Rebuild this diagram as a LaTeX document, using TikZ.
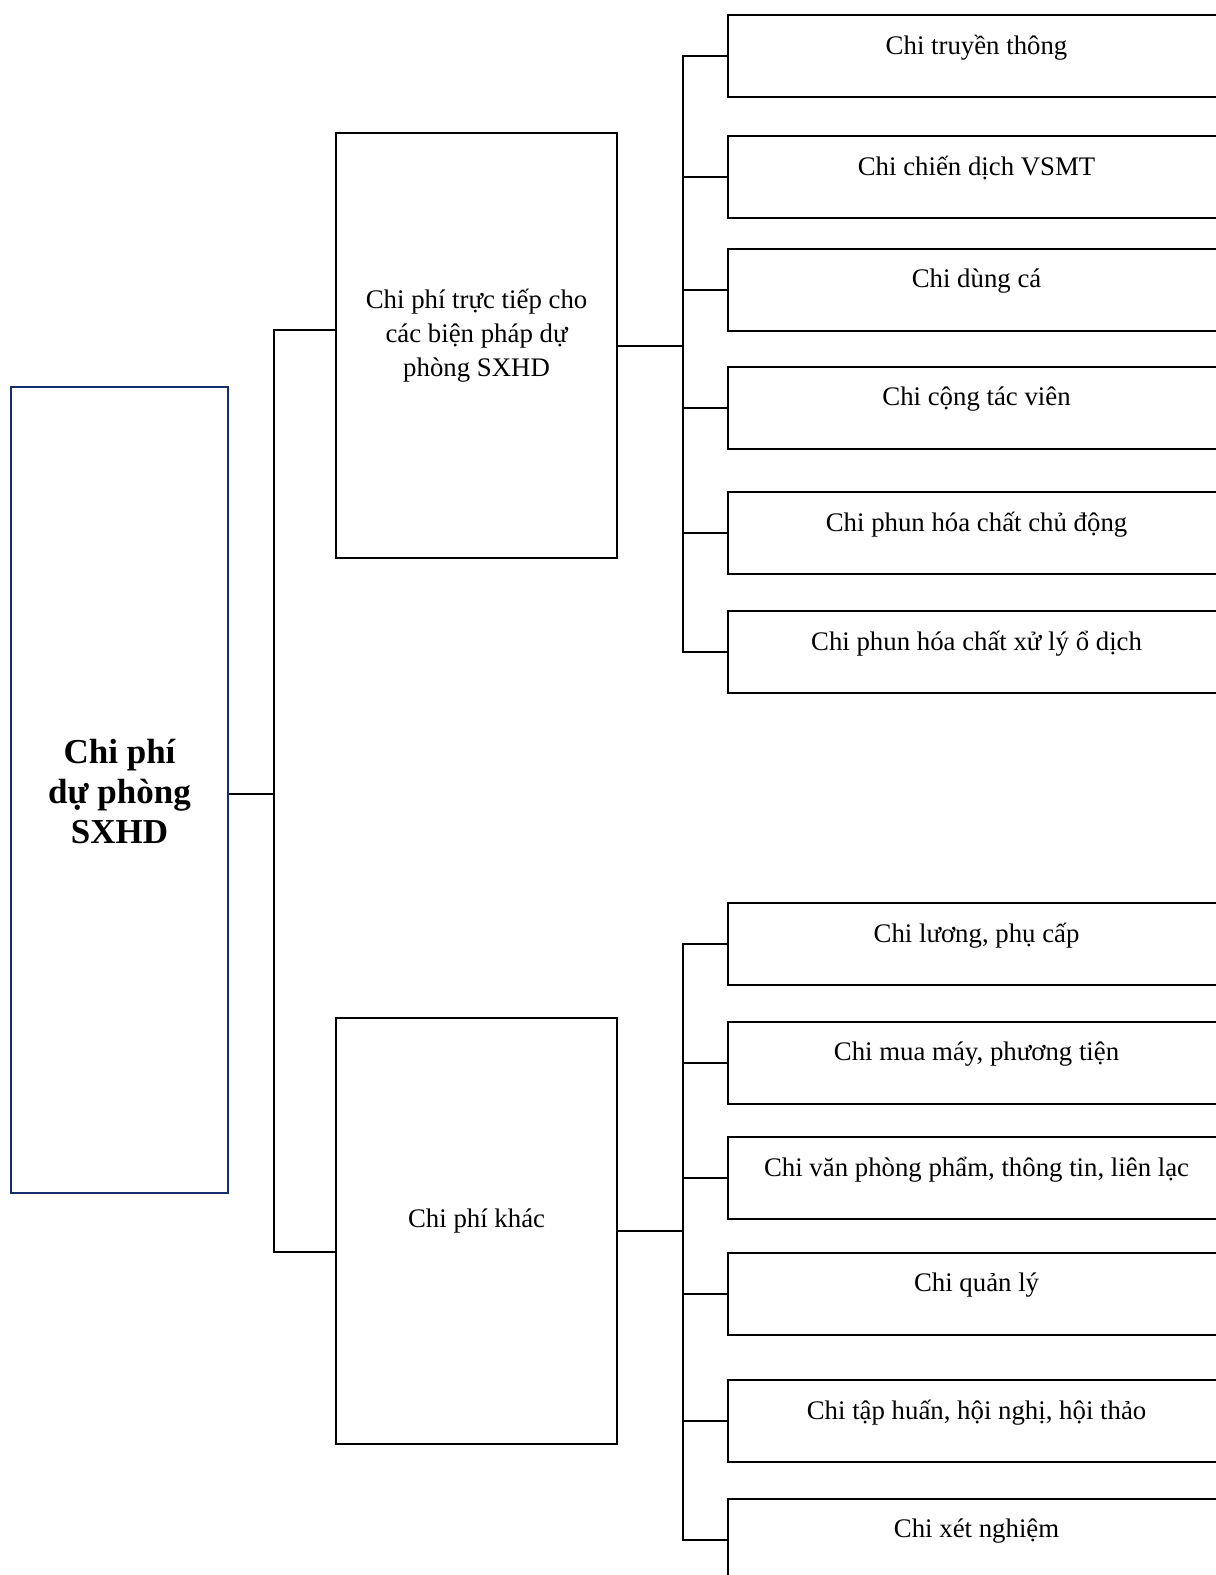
\documentclass[tikz,border=0pt]{standalone}
\usepackage{fontspec}
\setmainfont{Liberation Serif}
\definecolor{rootblue}{RGB}{25,45,110}
\begin{document}
\begin{tikzpicture}[x=0.5pt,y=-0.5pt,
  line width=1.05pt, line join=miter,
  box/.style={draw=black, line width=1.05pt, inner sep=0pt, anchor=north west},
  leaf/.style={box, minimum width=248.5pt, minimum height=41pt},
  mid/.style={box, minimum width=140.5pt, minimum height=212.5pt},
  txt/.style={font=\fontsize{13.4pt}{17pt}\selectfont, align=center, inner sep=0pt},
]
\useasboundingbox (0,0) rectangle (1216,1575);
\clip (0,0) rectangle (1216,1575);

% root
\node[box, draw=rootblue, minimum width=108.5pt, minimum height=403pt,
  label={[name=rootT, font=\fontsize{17.5pt}{20pt}\selectfont\bfseries, align=center, yshift=-0.5pt]center:Chi phí\\dự phòng\\SXHD}]
  (root) at (10,386) {};

% middle boxes
\node[mid, label={[name=AT, txt, yshift=4.7pt]center:Chi phí trực tiếp cho\\các biện pháp dự\\phòng SXHD}]
  (A) at (335,132) {};
\node[mid, minimum height=213pt, label={[name=BT, txt, yshift=4.9pt]center:Chi phí khác}]
  (B) at (335,1017) {};

% leaves
\node[leaf, label={[name=r1T, txt, yshift=4.3pt]center:Chi truyền thông}] (r1) at (727,14) {};
\node[leaf, label={[name=r2T, txt, yshift=4.3pt]center:Chi chiến dịch VSMT}] (r2) at (727,135) {};
\node[leaf, label={[name=r3T, txt, yshift=4.3pt]center:Chi dùng cá}] (r3) at (727,248) {};
\node[leaf, label={[name=r4T, txt, yshift=4.3pt]center:Chi cộng tác viên}] (r4) at (727,366) {};
\node[leaf, label={[name=r5T, txt, yshift=4.3pt]center:Chi phun hóa chất chủ động}] (r5) at (727,491) {};
\node[leaf, label={[name=r6T, txt, yshift=4.3pt]center:Chi phun hóa chất xử lý ổ dịch}] (r6) at (727,610) {};

\node[leaf, label={[name=s1T, txt, yshift=4.3pt]center:Chi lương, phụ cấp}] (s1) at (727,902) {};
\node[leaf, label={[name=s2T, txt, yshift=4.3pt]center:Chi mua máy, phương tiện}] (s2) at (727,1021) {};
\node[leaf, label={[name=s3T, txt, yshift=4.3pt]center:Chi văn phòng phẩm, thông tin, liên lạc}] (s3) at (727,1136) {};
\node[leaf, label={[name=s4T, txt, yshift=4.3pt]center:Chi quản lý}] (s4) at (727,1252) {};
\node[leaf, label={[name=s5T, txt, yshift=4.3pt]center:Chi tập huấn, hội nghị, hội thảo}] (s5) at (727,1379) {};
\node[leaf, label={[name=s6T, txt, yshift=4.3pt]center:Chi xét nghiệm}] (s6) at (727,1498) {};

% trunk coordinates
\coordinate (t1) at (274,330);
\coordinate (t2) at (274,1252);
\coordinate (tr) at (274,794);
\coordinate (u) at (683,0);

% connectors left
\draw (root.east |- tr) -- (tr);
\draw (t1 -| A.west) -- (t1) -- (t2) -- (t2 -| B.west);

% connectors right, top group
\draw (A.east) -- (A.east -| u);
\draw (r1.west) -- (u |- r1.west) -- (u |- r6.west) -- (r6.west);
\foreach \n in {r2,r3,r4,r5} \draw (u |- \n.west) -- (\n.west);

% connectors right, bottom group
\draw (B.east) -- (B.east -| u);
\draw (s1.west) -- (u |- s1.west) -- (u |- s6.west) -- (s6.west);
\foreach \n in {s2,s3,s4,s5} \draw (u |- \n.west) -- (\n.west);
\end{tikzpicture}
\end{document}
